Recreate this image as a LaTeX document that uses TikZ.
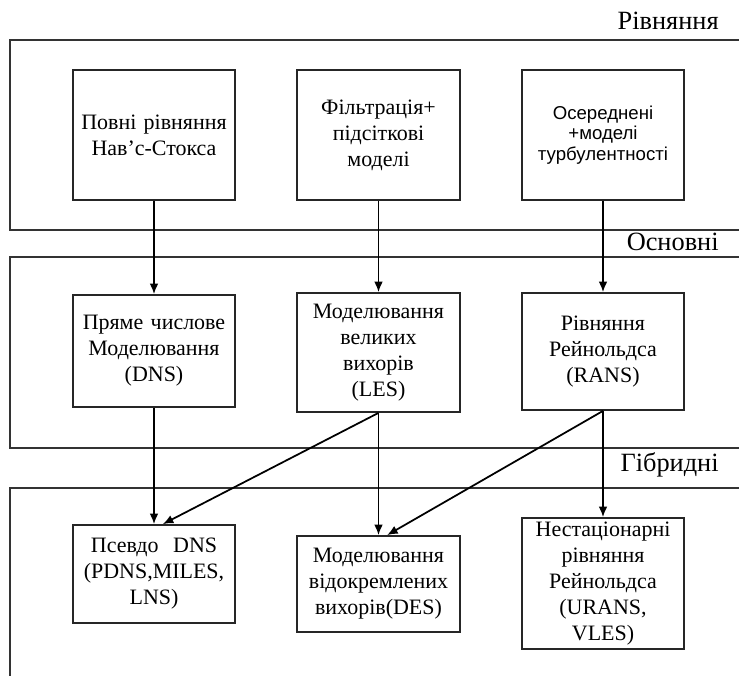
\documentclass[tikz,border=0pt]{standalone}
\usepackage{fontspec}
\setmainfont{Liberation Serif}
\newfontfamily\arialfont{Liberation Sans}
\usetikzlibrary{arrows.meta,positioning}

\begin{document}
\begin{tikzpicture}[
        panel/.style={draw=black!80, line width=1pt},
        panel-label/.style={anchor=base east, inner sep=0pt, font=\fontsize{15}{17}\selectfont},
        model/.style={rectangle, draw=black!85, line width=1pt, fill=white, minimum width=3.25cm, text width=3.1cm, align=center, inner sep=1pt, font=\fontsize{12.5}{14.8}\selectfont},
        model-sans/.style={model, font=\arialfont\fontsize{10.6}{11.8}\selectfont},
        connection/.style={-{Latex[length=6pt,width=5pt]}, line width=1pt},
    ]
        \clip (0,0) rectangle (14.78,-13.5);

        % Panels
        \draw[panel] (0.2,-0.8) rectangle (15.5,-4.6);
        \draw[panel] (0.2,-5.14) rectangle (15.5,-8.96);
        \draw[panel] (0.2,-9.76) rectangle (15.5,-14);

        % Panel labels
        \node[panel-label] (LR) at (14.38,-0.58) {Рівняння};
        \node[panel-label] (LO) at (14.38,-5.0) {Основні};
        \node[panel-label] (LG) at (14.38,-9.42) {Гібридні};

        % Equations
        \node[model, minimum height=2.6cm] (R1) at (3.08,-2.7) {Повні рівняння\\Нав’с-Стокса};
        \node[model, minimum height=2.6cm] (R2) at (7.57,-2.7) {Фільтрація+\\підсіткові\\моделі};
        \node[model-sans, minimum height=2.6cm] (R3) at (12.06,-2.7) {Осереднені\\+моделі\\турбулентності};

        % Basic models
        \node[model, minimum height=2.24cm] (O1) at (3.08,-7.02) {Пряме числове\\Моделювання\\(DNS)};
        \node[model, minimum height=2.38cm] (O2) at (7.57,-7.05) {Моделювання\\великих\\вихорів\\(LES)};
        \node[model, minimum height=2.34cm] (O3) at (12.06,-7.03) {Рівняння\\Рейнольдса\\(RANS)};

        % Hybrid models
        \node[model, minimum height=1.96cm] (G1) at (3.08,-11.48) {Псевдо\ \ DNS\\(PDNS,MILES,\\LNS)};
        \node[model, minimum height=1.92cm] (G2) at (7.57,-11.68) {Моделювання\\відокремлених\\вихорів(DES)};
        \node[model, minimum height=2.62cm] (G3) at (12.06,-11.67) {Нестаціонарні\\рівняння\\Рейнольдса\\(URANS,\\VLES)};

        % Connections
        \foreach \i in {1,2,3} {
            \draw[connection] (R\i) -- (O\i);
            \draw[connection] (O\i) -- (G\i);
        }
        \draw[connection] (O2.south) -- (G1.80);
        \draw[connection] (O3.south) -- (G2.80);
    \end{tikzpicture}
\end{document}
